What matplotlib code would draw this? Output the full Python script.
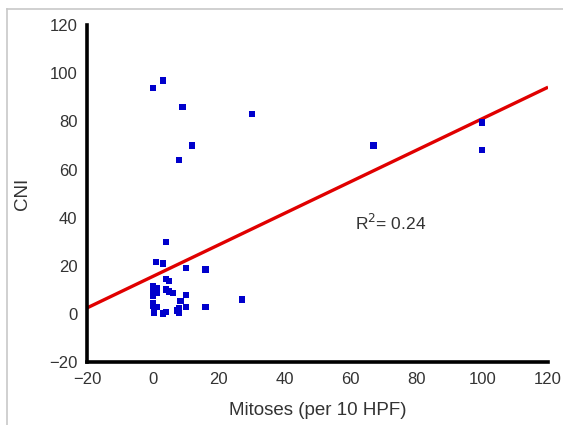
import matplotlib
matplotlib.use("Agg")
import matplotlib.pyplot as plt
from matplotlib.lines import Line2D
import numpy as np

plt.rcParams['font.family'] = ['Liberation Sans', 'DejaVu Sans']

mitoses = [3, 0, 9, 30, 12, 8, 67, 100, 100,
           4, 1, 3, 10, 16, 4, 5,
           0, 0, 0, 0, 1.3, 1.3, 4, 5, 6, 10, 8.4, 27,
           0, 0, 1.3, 0.3, 0.3, 3, 4, 8, 7.4, 8, 10, 16]
cni = [97, 94, 86, 83, 70, 64, 70, 79.5, 68,
       30, 21.5, 21, 19, 18.5, 14.5, 13.8,
       11.6, 10.2, 8.8, 7.6, 10.7, 8.8, 10.2, 9.3, 8.8, 7.8, 5.4, 6,
       4.7, 3.3, 3, 1.5, 0.5, 0.2, 0.8, 2.6, 1.4, 0.3, 2.8, 3]

fit_intercept = 15.6
fit_slope = 0.655
r2_text = "R$^2$= 0.24"

x_ticks = [-20, 0, 20, 40, 60, 80, 100, 120]
y_ticks = [-20, 0, 20, 40, 60, 80, 100, 120]

fig = plt.figure(figsize=(5.63, 4.25), dpi=100)
ax = fig.add_axes([0.1545, 0.148, 0.819, 0.793])

xl = np.array([-20, 120])
ax.plot(xl, fit_intercept + fit_slope * xl, color='#e00000', lw=2.4, zorder=2,
        solid_capstyle='butt')
ax.scatter(mitoses, cni, marker='s', s=20, color='#0000cc', edgecolors='none', zorder=3)

ax.set_xlim(-20, 120)
ax.set_ylim(-20, 120)
ax.set_xticks(x_ticks)
ax.set_yticks(y_ticks)
ax.tick_params(length=0, labelsize=12, labelcolor='#333333', pad=7)
for s in ['top', 'right']:
    ax.spines[s].set_visible(False)
for s in ['left', 'bottom']:
    ax.spines[s].set_linewidth(2.6)
    ax.spines[s].set_color('black')
    ax.spines[s].set_capstyle('projecting')

ax.set_xlabel('Mitoses (per 10 HPF)', fontsize=13.5, color='#333333', labelpad=11)
ax.set_ylabel('CNI', fontsize=13.5, color='#333333', labelpad=13)

ax.text(61.5, 38, r2_text, fontsize=12.5, color='#333333', ha='left', va='center')

# light gray frame around image
fig.add_artist(Line2D([7/563, 7/563], [0, 1 - 9/425], transform=fig.transFigure,
                      color='#c8c8c8', lw=1.2))
fig.add_artist(Line2D([7/563, 1], [1 - 9/425, 1 - 9/425], transform=fig.transFigure,
                      color='#c8c8c8', lw=1.2))

fig.savefig('out.png', dpi=100)
